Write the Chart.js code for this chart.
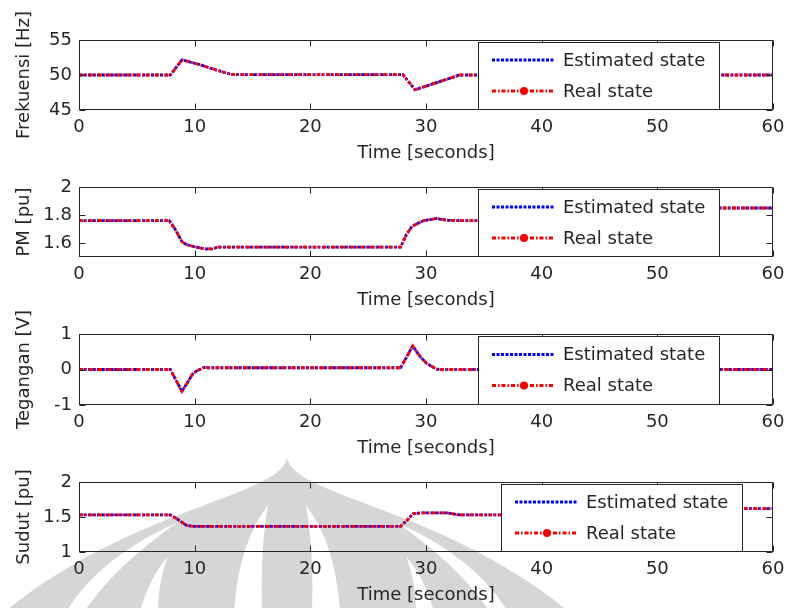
<!DOCTYPE html>
<html>
<head>
<meta charset="utf-8">
<script src="https://cdn.jsdelivr.net/npm/chart.js@4.4.1/dist/chart.umd.min.js"></script>
<style>
  body { margin: 0; background: #fff; }
  #page { position: relative; width: 787px; height: 608px; overflow: hidden; background: #fff; }
  #mark { position: absolute; left: 0; top: 0; }
  .panel { position: absolute; left: 0; width: 787px; }
</style>
</head>
<body>
<div id="page">
  <canvas id="mark" width="787" height="608"></canvas>
</div>
<script>
// shared x axis
let xTicks = [0, 10, 20, 30, 40, 50, 60];

// Frekuensi [Hz]
let timeFreq = [0, 7.9, 8.9, 9.5, 10.5, 11.5, 12.8, 13.4, 28.0, 29.05, 30.0, 30.9, 32.0, 32.9, 60];
let estFreq  = [50, 50, 52.15, 51.9, 51.45, 50.9, 50.25, 50.05, 50.05, 47.9, 48.4, 48.9, 49.5, 50, 50];
let realFreq = [50, 50, 52.15, 51.9, 51.45, 50.9, 50.25, 50.05, 50.05, 47.9, 48.4, 48.9, 49.5, 50, 50];
let freqRange = [45, 55];
let freqTicks = [45, 50, 55];

// PM [pu]
let timePm = [0, 7.8, 8.3, 8.9, 9.3, 9.9, 10.9, 11.5, 12, 27.8, 28.3, 28.8, 29.8, 30.9, 31.9, 33, 47, 49, 60];
let estPm  = [1.76, 1.76, 1.70, 1.61, 1.588, 1.575, 1.557, 1.558, 1.57, 1.57, 1.66, 1.72, 1.76, 1.775, 1.762, 1.76, 1.76, 1.85, 1.85];
let realPm = [1.76, 1.76, 1.70, 1.61, 1.588, 1.575, 1.557, 1.558, 1.57, 1.57, 1.66, 1.72, 1.76, 1.775, 1.762, 1.76, 1.76, 1.85, 1.85];
let pmRange = [1.5, 2];
let pmTicks = [1.6, 1.8, 2];

// Tegangan [V]
let timeVolt = [0, 7.9, 8.9, 9.9, 10.8, 11.2, 27.8, 28.85, 29.5, 30.05, 30.9, 31.5, 60];
let estVolt  = [0, 0, -0.62, -0.09, 0.06, 0.05, 0.05, 0.66, 0.36, 0.17, 0.01, 0, 0];
let realVolt = [0, 0, -0.62, -0.09, 0.06, 0.05, 0.05, 0.66, 0.36, 0.17, 0.01, 0, 0];
let voltRange = [-1, 1];
let voltTicks = [-1, 0, 1];

// Sudut [pu]
let timeAngle = [0, 7.9, 8.6, 9.3, 9.9, 27.8, 28.4, 28.9, 29.8, 31.8, 32.9, 47, 49, 60];
let estAngle  = [1.53, 1.53, 1.46, 1.38, 1.367, 1.367, 1.46, 1.55, 1.56, 1.56, 1.53, 1.53, 1.62, 1.62];
let realAngle = [1.53, 1.53, 1.46, 1.38, 1.367, 1.367, 1.46, 1.55, 1.56, 1.56, 1.53, 1.53, 1.62, 1.62];
let angleRange = [1, 2];
let angleTicks = [1, 1.5, 2];

const ink = '#262626';
Chart.defaults.font.family = "'DejaVu Sans', sans-serif";
Chart.defaults.font.size = 18;
Chart.defaults.color = ink;
Chart.defaults.animation = false;

// faint logo watermark behind the figure
const wm = document.getElementById('mark').getContext('2d');
wm.fillStyle = '#d6d6d6';
wm.beginPath();
wm.moveTo(287, 458);
wm.bezierCurveTo(295, 500, 470, 510, 600, 640);
wm.lineTo(-26, 640);
wm.bezierCurveTo(104, 510, 279, 500, 287, 458);
wm.fill();
wm.fillStyle = '#fff';
[1, -1].forEach(s => {
  const m = x => 287 + s * (x - 287);
  wm.beginPath(); // inner drop
  wm.moveTo(m(268), 505);
  wm.quadraticCurveTo(m(238), 545, m(234), 612);
  wm.lineTo(m(262), 612);
  wm.quadraticCurveTo(m(260), 550, m(268), 505);
  wm.fill();
  wm.beginPath(); // middle band
  wm.moveTo(m(168), 556);
  wm.quadraticCurveTo(m(148), 580, m(140), 612);
  wm.lineTo(m(158), 612);
  wm.quadraticCurveTo(m(158), 582, m(168), 556);
  wm.fill();
  wm.beginPath(); // outer band
  wm.moveTo(m(178), 522);
  wm.quadraticCurveTo(m(98), 558, m(66), 612);
  wm.lineTo(m(84), 612);
  wm.quadraticCurveTo(m(115), 566, m(178), 522);
  wm.fill();
});

// axes box, inward ticks and the boxed legend (MATLAB look)
const boxLegend = {
  id: 'boxLegend',
  afterDraw(chart, args, opts) {
    const ctx = chart.ctx, a = chart.chartArea;
    const xs = chart.scales.x, ys = chart.scales.y;
    ctx.save();
    ctx.strokeStyle = ink;
    ctx.lineWidth = 1;
    ctx.setLineDash([]);
    const L = Math.round(a.left) + 0.5, R = Math.round(a.right) - 0.5;
    const T = Math.round(a.top) + 0.5, B = Math.round(a.bottom) - 0.5;
    ctx.strokeRect(L, T, R - L, B - T);
    ctx.beginPath();
    xs.ticks.forEach(t => {
      const px = Math.round(xs.getPixelForValue(t.value)) + 0.5;
      ctx.moveTo(px, B); ctx.lineTo(px, B - 6);
      ctx.moveTo(px, T); ctx.lineTo(px, T + 6);
    });
    ys.ticks.forEach(t => {
      const py = Math.round(ys.getPixelForValue(t.value)) + 0.5;
      ctx.moveTo(L, py); ctx.lineTo(L + 6, py);
      ctx.moveTo(R, py); ctx.lineTo(R - 6, py);
    });
    ctx.stroke();

    // legend box
    const x = Math.round(a.left + opts.left), y = Math.round(a.top + 2);
    const w = 241, h = Math.round(a.bottom - a.top - 3);
    ctx.fillStyle = '#fff';
    ctx.fillRect(x, y, w, h);
    ctx.strokeRect(x + 0.5, y + 0.5, w, h);
    const rows = [y + h / 2 - 15.5, y + h / 2 + 15.5];
    chart.data.datasets.forEach((ds, i) => {
      const ry = rows[i];
      ctx.beginPath();
      ctx.strokeStyle = ds.borderColor;
      ctx.lineWidth = ds.borderWidth;
      ctx.setLineDash(ds.borderDash);
      ctx.moveTo(x + 14, ry); ctx.lineTo(x + 77, ry);
      ctx.stroke();
      if (ds.legendDot) {
        ctx.setLineDash([]);
        ctx.fillStyle = ds.borderColor;
        ctx.beginPath(); ctx.arc(x + 46, ry, 4, 0, Math.PI * 2); ctx.fill();
      }
      ctx.fillStyle = ink;
      ctx.font = "18px 'DejaVu Sans', sans-serif";
      ctx.textBaseline = 'middle';
      ctx.textAlign = 'left';
      ctx.fillText(ds.label, x + 85, ry + 1);
    });
    ctx.restore();
  }
};

const panels = [
  { top: 40,  bottom: 110, t: timeFreq,  est: estFreq,  real: realFreq,  range: freqRange,  ticks: freqTicks,  label: 'Frekuensi [Hz]', legendLeft: 399 },
  { top: 187, bottom: 257, t: timePm,    est: estPm,    real: realPm,    range: pmRange,    ticks: pmTicks,    label: 'PM [pu]',        legendLeft: 399 },
  { top: 334, bottom: 405, t: timeVolt,  est: estVolt,  real: realVolt,  range: voltRange,  ticks: voltTicks,  label: 'Tegangan [V]',   legendLeft: 399 },
  { top: 482, bottom: 552, t: timeAngle, est: estAngle, real: realAngle, range: angleRange, ticks: angleTicks, label: 'Sudut [pu]',     legendLeft: 422 }
];

const padTop = 36, xAxisH = 56;
const page = document.getElementById('page');

panels.forEach(p => {
  const div = document.createElement('div');
  div.className = 'panel';
  div.style.top = (p.top - padTop) + 'px';
  div.style.height = (padTop + (p.bottom - p.top) + xAxisH) + 'px';
  const cv = document.createElement('canvas');
  div.appendChild(cv);
  page.appendChild(div);

  new Chart(cv, {
    type: 'line',
    data: {
      datasets: [
        {
          label: 'Estimated state',
          data: p.t.map((x, i) => ({ x: x, y: p.est[i] })),
          borderColor: '#0000ff',
          borderWidth: 2.8,
          borderDash: [3, 1.5],
          pointRadius: 0,
          tension: 0,
          order: 1
        },
        {
          label: 'Real state',
          data: p.t.map((x, i) => ({ x: x, y: p.real[i] })),
          borderColor: '#ff0000',
          borderWidth: 2.8,
          borderDash: [4, 2, 1.5, 2],
          pointRadius: 0,
          tension: 0,
          order: 0,
          legendDot: true
        }
      ]
    },
    options: {
      responsive: true,
      maintainAspectRatio: false,
      layout: { padding: { top: padTop, right: 14, left: 0, bottom: 0 } },
      plugins: {
        legend: { display: false },
        tooltip: { enabled: false },
        boxLegend: { left: p.legendLeft }
      },
      scales: {
        x: {
          type: 'linear',
          min: xTicks[0],
          max: xTicks[xTicks.length - 1],
          afterBuildTicks: s => { s.ticks = xTicks.map(v => ({ value: v })); },
          afterFit: s => { s.height = xAxisH; s.paddingLeft = 0; s.paddingRight = 0; },
          grid: { display: false, drawTicks: false },
          border: { display: false },
          ticks: { padding: 7, maxRotation: 0, autoSkip: false, color: ink, callback: v => String(v) },
          title: { display: true, text: 'Time [seconds]', color: ink, padding: { top: 0, bottom: 2 } }
        },
        y: {
          type: 'linear',
          min: p.range[0],
          max: p.range[1],
          afterBuildTicks: s => { s.ticks = p.ticks.map(v => ({ value: v })); },
          afterFit: s => { s.width = 79; },
          grid: { display: false, drawTicks: false },
          border: { display: false },
          ticks: { padding: 7, autoSkip: false, color: ink, callback: v => String(v) },
          title: { display: true, text: p.label, color: ink, padding: { top: 14, bottom: 0 } }
        }
      }
    },
    plugins: [boxLegend]
  });
});
</script>
</body>
</html>
